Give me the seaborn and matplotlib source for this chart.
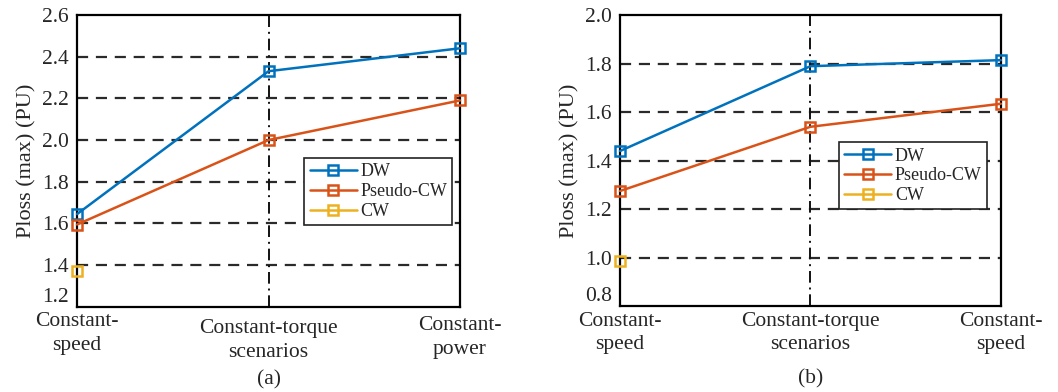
import numpy as np
import pandas as pd
import matplotlib
matplotlib.use("Agg")
import matplotlib.pyplot as plt
import seaborn as sns
from matplotlib.lines import Line2D
from matplotlib.transforms import ScaledTranslation

# data
series_names = ["DW", "Pseudo-CW", "CW"]
labels_a = ["Constant-\nspeed", "Constant-torque\nscenarios", "Constant-\npower"]
labels_b = ["Constant-\nspeed", "Constant-torque\nscenarios", "Constant-\nspeed"]
dw_a = [1.645, 2.33, 2.44]
pcw_a = [1.595, 2.0, 2.19]
cw_a = [1.37]
dw_b = [1.44, 1.79, 1.815]
pcw_b = [1.275, 1.54, 1.635]
cw_b = [0.985]
yticks_a = [1.2, 1.4, 1.6, 1.8, 2.0, 2.2, 2.4, 2.6]
yticks_b = [0.8, 1.0, 1.2, 1.4, 1.6, 1.8, 2.0]

colors = ["#0072BD", "#D95319", "#EDB120"]

sns.set_style("white")
plt.rcParams["font.family"] = ["Liberation Serif", "DejaVu Serif"]


def make_df(dw, pcw, cw):
    rows = []
    for name, vals in zip(series_names, [dw, pcw, cw]):
        for i, v in enumerate(vals):
            rows.append({"pos": i, "val": v, "series": name})
    return pd.DataFrame(rows)


def draw_panel(ax, df, xlabels, yticks, legend_box, caption, xshift):
    sns.lineplot(data=df, x="pos", y="val", hue="series", hue_order=series_names,
                 palette=colors, marker="s", markersize=6.5, markerfacecolor="none",
                 markeredgewidth=1.8, linewidth=1.8, ax=ax, legend=False,
                 clip_on=False, zorder=5)
    for ln in ax.lines:
        ln.set_markeredgecolor(ln.get_color())
    ax.set_xlim(0, 2)
    ax.set_ylim(yticks[0], yticks[-1])
    ax.set_yticks(yticks)
    ax.set_yticklabels([f"{t:.1f}" for t in yticks])
    ax.set_xticks([0, 1, 2])
    ax.set_xticklabels(xlabels, linespacing=1.3)
    for t in yticks[1:-1]:
        ax.axhline(t, color="#2a2a2a", lw=1.6, ls=(0, (5, 3.5)), zorder=1)
    ax.axvline(1, color="#111111", lw=1.4, ls=(0, (6, 2.5, 1, 2.5)), zorder=1)
    ax.tick_params(length=0, labelsize=15.5, pad=6)
    ax.tick_params(axis="x", pad=4)
    # bottom y label sits just above the axis line, as in the reference
    ax.get_yticklabels()[0].set_verticalalignment("bottom")
    for lab, dy in zip(ax.get_xticklabels(), xshift):
        lab.set_transform(lab.get_transform() +
                          ScaledTranslation(0, -dy / 100, ax.figure.dpi_scale_trans))
    ax.set_xlabel("")
    ax.set_ylabel("Ploss (max) (PU)", fontsize=16, labelpad=4)
    for sp in ax.spines.values():
        sp.set_visible(True)
        sp.set_color("black")
        sp.set_linewidth(1.6)
    handles = [Line2D([], [], color=c, marker="s", markerfacecolor="none",
                      markeredgewidth=1.8, markersize=6.5, lw=1.8) for c in colors]
    leg = ax.legend(handles, series_names, loc="upper left",
                    bbox_to_anchor=legend_box, fontsize=13, frameon=True,
                    fancybox=False, edgecolor="#222222", framealpha=1,
                    handlelength=2.6, handletextpad=0.2, labelspacing=0.15,
                    borderpad=0.3, borderaxespad=0)
    leg.get_frame().set_linewidth(1.2)
    leg.set_zorder(10)
    ax.text(0.5, -0.25, caption, transform=ax.transAxes, ha="center",
            va="center", fontsize=15.5)


fig = plt.figure(figsize=(10.58, 3.92), dpi=100)
ax_a = fig.add_axes([0.0728, 0.217, 0.362, 0.745])
ax_b = fig.add_axes([0.586, 0.219, 0.360, 0.742])

draw_panel(ax_a, make_df(dw_a, pcw_a, cw_a), labels_a, yticks_a,
           (0.593, 0.51), "(a)", [0, 7, 4])
draw_panel(ax_b, make_df(dw_b, pcw_b, cw_b), labels_b, yticks_b,
           (0.575, 0.564), "(b)", [0, 0, 0])

fig.savefig("out.png", dpi=100)
